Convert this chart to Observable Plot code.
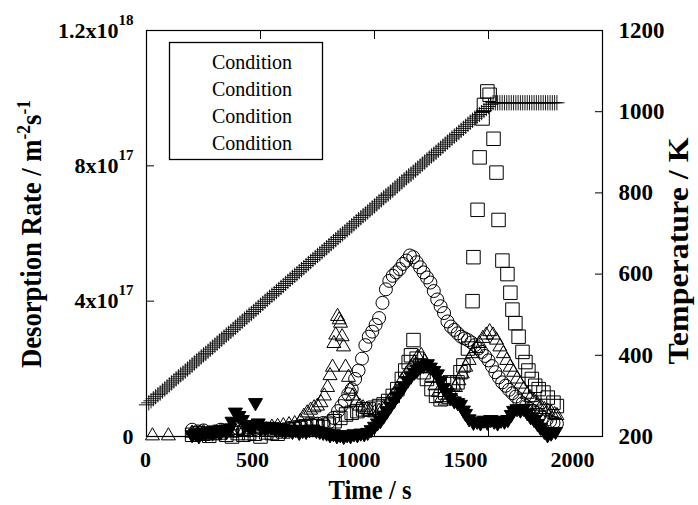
<!DOCTYPE html>
<html><head><meta charset="utf-8">
<script src="https://cdn.jsdelivr.net/npm/d3@7"></script>
<script src="https://cdn.jsdelivr.net/npm/@observablehq/plot@0.6"></script>
<style>html,body{margin:0;padding:0;background:#fff;} svg{display:block}</style>
</head><body><div id="chart"></div>
<script>
// ---------------- DATA ----------------
// Temperature (K) vs time (s) – right axis, "+" markers
const tempTime = [0,10,20,30,40,50,60,70,80,90,100,110,120,130,140,150,160,170,180,190,200,210,220,230,240,250,260,270,280,290,300,310,320,330,340,350,360,370,380,390,400,410,420,430,440,450,460,470,480,490,500,510,520,530,540,550,560,570,580,590,600,610,620,630,640,650,660,670,680,690,700,710,720,730,740,750,760,770,780,790,800,810,820,830,840,850,860,870,880,890,900,910,920,930,940,950,960,970,980,990,1000,1010,1020,1030,1040,1050,1060,1070,1080,1090,1100,1110,1120,1130,1140,1150,1160,1170,1180,1190,1200,1210,1220,1230,1240,1250,1260,1270,1280,1290,1300,1310,1320,1330,1340,1350,1360,1370,1380,1390,1400,1410,1420,1430,1440,1450,1460,1470,1480,1490,1500,1510,1520,1530,1540,1550,1560,1570,1580,1590,1600,1610,1620,1630,1640,1650,1660,1670,1680,1690,1700,1710,1720,1730,1740,1750,1760,1770,1780,1790,1800];
const tempK = [278,283,288,293,298,303,307,312,317,322,
327,332,337,342,347,352,356,361,366,371,
376,381,386,391,396,401,405,410,415,420,
425,430,435,440,445,450,454,459,464,469,
474,479,484,489,494,499,503,508,513,518,
523,528,533,538,543,548,552,557,562,567,
572,577,582,587,592,597,601,606,611,616,
621,626,631,636,641,646,650,655,660,665,
670,675,680,685,690,695,699,704,709,714,
719,724,729,734,739,744,748,753,758,763,
768,773,778,783,788,793,797,802,807,812,
817,822,827,832,837,842,846,851,856,861,
866,871,876,881,886,891,895,900,905,910,
915,920,925,930,935,940,944,949,954,959,
964,969,974,979,984,989,993,998,1003,1008,
1013,1018,1022,1022,1022,1022,1022,1022,1022,1022,
1022,1022,1022,1022,1022,1022,1022,1022,1022,1022,
1022,1022,1022,1022,1022,1022,1022,1022,1022,1022,1022];

// Desorption rate series: [time s, rate in 1e17 m^-2 s^-1]
const circles = [[200,0.2],[225,0.15],[250,0.18],[275,0.12],[300,0.15],[325,0.2],[350,0.18],[375,0.22],[400,0.25],[425,0.2],[450,0.18],[475,0.22],[500,0.25],[525,0.2],[550,0.18],[575,0.22],[600,0.2],[625,0.25],[650,0.28],[675,0.3],[700,0.32],[725,0.35],[750,0.38],[775,0.4],[800,0.42],[820,0.55],[840,0.75],[855,0.9],[870,1.05],[885,1.25],[900,1.4],[915,1.7],[930,1.95],[945,2.3],[960,2.7],[975,2.95],[990,3.1],[1005,3.3],[1020,3.5],[1035,3.95],[1050,4.35],[1065,4.6],[1080,4.75],[1095,4.85],[1110,4.95],[1125,5.1],[1140,5.2],[1155,5.35],[1170,5.3],[1185,5.15],[1200,5.0],[1215,4.85],[1230,4.7],[1245,4.55],[1260,4.3],[1275,4.05],[1290,3.85],[1305,3.65],[1320,3.4],[1335,3.25],[1350,3.15],[1365,3.05],[1380,2.95],[1395,2.9],[1410,2.85],[1425,2.78],[1440,2.7],[1455,2.6],[1470,2.5],[1485,2.38],[1500,2.25],[1515,2.08],[1530,1.9],[1545,1.75],[1560,1.6],[1575,1.5],[1590,1.38],[1605,1.28],[1620,1.18],[1635,1.05],[1650,0.98],[1665,0.9],[1680,0.82],[1695,0.76],[1710,0.7],[1725,0.63],[1740,0.56],[1755,0.5],[1770,0.45],[1785,0.4],[1800,0.38]];

const triangles = [[26,0.02],[96,0.02],[200,0.1],[225,0.05],[250,0.12],[275,0.08],[300,0.1],[325,0.15],[350,0.12],[375,0.1],[400,0.18],[425,0.15],[450,0.2],[475,0.22],[500,0.25],[525,0.2],[550,0.28],[575,0.3],[600,0.32],[625,0.35],[650,0.38],[675,0.45],[690,0.6],[705,0.7],[720,0.78],[735,0.85],[750,0.9],[765,1.0],[780,1.2],[794,1.45],[805,1.8],[816,2.05],[822,2.75],[830,3.0],[838,3.55],[845,3.45],[851,3.35],[858,2.95],[864,2.65],[873,2.05],[886,1.75],[895,1.4],[905,1.2],[920,1.0],[935,0.9],[950,0.85],[965,0.8],[980,0.75],[1000,0.7],[1020,0.75],[1040,0.85],[1060,1.0],[1080,1.2],[1100,1.4],[1120,1.65],[1140,1.85],[1160,2.05],[1175,2.2],[1190,2.35],[1205,2.4],[1220,2.2],[1235,2.0],[1250,1.75],[1265,1.5],[1280,1.3],[1295,1.15],[1310,1.05],[1325,1.1],[1340,1.25],[1355,1.45],[1370,1.65],[1385,1.85],[1400,2.05],[1415,2.25],[1430,2.45],[1445,2.6],[1460,2.75],[1475,2.9],[1490,3.0],[1505,3.1],[1520,3.0],[1535,2.85],[1550,2.65],[1565,2.45],[1580,2.25],[1595,2.05],[1610,1.9],[1625,1.7],[1640,1.55],[1655,1.4],[1670,1.25],[1685,1.15],[1700,1.05],[1715,0.95],[1730,0.88],[1745,0.8],[1760,0.75],[1775,0.7],[1790,0.65],[1800,0.62]];

const squares = [[200,0.05],[225,0.1],[250,0.08],[275,0.02],[300,0.1],[325,0.12],[350,0.05],[375,0.0],[400,0.1],[425,0.05],[450,0.1],[475,0.08],[500,0.0],[525,0.12],[550,0.1],[575,0.08],[600,0.15],[625,0.2],[650,0.22],[675,0.25],[700,0.3],[725,0.35],[750,0.3],[775,0.28],[800,0.35],[825,0.45],[850,0.55],[875,0.65],[900,0.7],[925,0.75],[950,0.8],[975,0.8],[1000,0.85],[1020,0.9],[1040,0.95],[1060,1.05],[1080,1.2],[1100,1.4],[1120,1.7],[1135,1.95],[1150,2.2],[1160,2.4],[1171,2.85],[1185,2.3],[1200,2.1],[1215,1.9],[1230,1.7],[1250,1.4],[1270,1.2],[1290,1.1],[1310,1.3],[1330,1.6],[1345,1.55],[1364,1.6],[1377,1.9],[1390,2.1],[1410,2.6],[1430,4.0],[1434,5.3],[1452,6.7],[1461,8.25],[1474,9.4],[1480,9.8],[1495,10.2],[1505,10.1],[1522,8.8],[1535,7.8],[1544,6.4],[1561,5.2],[1583,4.8],[1596,4.25],[1605,3.75],[1618,3.35],[1632,2.95],[1649,2.5],[1662,2.2],[1675,1.95],[1690,1.7],[1705,1.5],[1720,1.4],[1741,1.3],[1760,1.15],[1785,1.0],[1800,0.9]];

const filledTriangles = [[200,0.05],[215,0.1],[230,0.02],[245,0.12],[260,0.08],[275,0.15],[290,0.1],[305,0.18],[320,0.12],[335,0.2],[350,0.15],[365,0.25],[375,0.45],[390,0.72],[405,0.62],[420,0.5],[435,0.35],[450,0.3],[465,0.25],[478,1.0],[490,0.4],[505,0.3],[520,0.25],[535,0.3],[550,0.28],[565,0.22],[580,0.25],[595,0.2],[610,0.18],[625,0.22],[640,0.15],[655,0.2],[670,0.12],[685,0.18],[700,0.15],[715,0.2],[730,0.22],[745,0.18],[760,0.15],[775,0.12],[790,0.1],[805,0.05],[820,0.08],[835,0.02],[850,0.05],[865,0.0],[880,0.05],[895,0.02],[910,0.08],[925,0.05],[940,0.1],[955,0.08],[970,0.12],[985,0.2],[1000,0.3],[1013,0.4],[1026,0.47],[1040,0.6],[1055,0.75],[1070,0.9],[1085,1.05],[1100,1.2],[1115,1.35],[1130,1.5],[1145,1.65],[1160,1.78],[1175,1.9],[1188,1.98],[1200,2.05],[1215,2.1],[1232,2.15],[1245,2.05],[1260,1.95],[1276,1.85],[1290,1.65],[1302,1.45],[1318,1.3],[1333,1.15],[1350,1.05],[1365,1.0],[1377,0.95],[1390,0.78],[1399,0.68],[1415,0.52],[1434,0.42],[1450,0.45],[1465,0.4],[1480,0.48],[1495,0.42],[1510,0.5],[1525,0.45],[1540,0.4],[1555,0.48],[1570,0.45],[1585,0.5],[1600,0.65],[1610,0.77],[1625,0.82],[1640,0.78],[1654,0.83],[1670,0.7],[1685,0.58],[1700,0.5],[1715,0.38],[1728,0.27],[1745,0.15],[1759,0.05],[1775,0.1],[1794,0.15]];

// Axis ticks / labels
const xTicks = [0, 500, 1000, 1500, 2000];
const xTickLabels = ["0", "500", "1000", "1500", "2000"];
const rateTicks = [0, 4e17, 8e17, 1.2e18];
const rateTickLabels = ["0", "4x10^17", "8x10^17", "1.2x10^18"];
const tempTicks = [200, 400, 600, 800, 1000, 1200];
const legendLabels = ["Condition", "Condition", "Condition", "Condition"];

// ---------------- LAYOUT ----------------
const W = 698, H = 505;
const mL = 146, mR = 96, mT = 30, mB = 69;
const xLabelDx = [-1, -8, -16, -23, -30];
const tickLen = 8;
const serif = "'Liberation Serif', 'Times New Roman', serif";

// right (temperature) axis shares the y scale via a linear mapping
const tMin = 200, tMax = 1200, rMax = 1.2e18;
const toY = T => (T - tMin) / (tMax - tMin) * rMax;
const fromY = v => Math.round(v / rMax * (tMax - tMin) + tMin);

const tempRows = tempTime.map((t, i) => ({t, v: toY(tempK[i])}));
const rows = arr => arr.map(([t, r]) => ({t, v: r * 1e17}));

const triDown = {
  draw(ctx, size) {
    const y = -Math.sqrt(size / (Math.sqrt(3) * 3));
    const s = Math.sqrt(3) * y;
    ctx.moveTo(0, -2 * y);
    ctx.lineTo(-s, y);
    ctx.lineTo(s, y);
    ctx.closePath();
  }
};

const rateLabelMap = new Map(rateTicks.map((v, i) => [v, rateTickLabels[i]]));
const blank = () => "";

const plot = Plot.plot({
  width: W, height: H,
  marginLeft: mL, marginRight: mR, marginTop: mT, marginBottom: mB,
  x: {domain: [0, 2000]},
  y: {domain: [0, rMax]},
  style: {fontFamily: serif, fontSize: "22px", fontWeight: "bold", color: "black", background: "white", overflow: "visible"},
  marks: [
    Plot.frame({stroke: "black", strokeWidth: 1.2}),
    // inward tick marks
    Plot.axisX(xTicks, {anchor: "bottom", tickSize: -tickLen, tickFormat: blank, label: null}),
    Plot.axisX(xTicks, {anchor: "top", tickSize: -tickLen, tickFormat: blank, label: null}),
    Plot.axisY(rateTicks, {anchor: "left", tickSize: -tickLen, tickFormat: blank, label: null}),
    Plot.axisY(tempTicks.map(toY), {anchor: "right", tickSize: -tickLen, tickFormat: blank, label: null}),
    // tick labels
    ...xTicks.map((v, i) => Plot.axisX([v], {anchor: "bottom", tickSize: 0, tickPadding: 15, dx: xLabelDx[i], tickFormat: () => xTickLabels[i], label: null, fontSize: 22})),
    Plot.axisY(rateTicks, {anchor: "left", tickSize: 0, tickPadding: 13, tickFormat: d => rateLabelMap.get(d), label: null, fontSize: 22}),
    Plot.axisY(tempTicks.map(toY), {anchor: "right", tickSize: 0, tickPadding: 16, tickFormat: d => String(fromY(d)), label: null, fontSize: 23}),
    // data
    Plot.dot(tempRows, {x: "t", y: "v", symbol: "plus", r: 5, stroke: "black", strokeWidth: 0.9}),
    Plot.dot(rows(circles), {x: "t", y: "v", symbol: "circle", r: 6.5, stroke: "black", fill: "none", strokeWidth: 1}),
    Plot.dot(rows(squares), {x: "t", y: "v", symbol: "square", r: 7.6, stroke: "black", fill: "none", strokeWidth: 1}),
    Plot.dot(rows(triangles), {x: "t", y: "v", symbol: "triangle", r: 5.2, stroke: "black", fill: "none", strokeWidth: 1}),
    Plot.dot(rows(filledTriangles), {x: "t", y: "v", symbol: triDown, r: 5.2, stroke: "black", fill: "black", strokeWidth: 1})
  ]
});
document.getElementById("chart").appendChild(plot);

// superscripts in tick labels ("8x10^17")
const NS = "http://www.w3.org/2000/svg";
plot.querySelectorAll("text").forEach(el => {
  const s = el.textContent;
  if (!s.includes("^")) return;
  const [base, sup] = s.split("^");
  const host = el.querySelector("tspan") || el;
  host.textContent = base;
  const t = document.createElementNS(NS, "tspan");
  t.setAttribute("dy", -13);
  t.setAttribute("font-size", 15);
  t.textContent = sup;
  host.appendChild(t);
});

const svg = d3.select(plot);
const cx = mL + (W - mL - mR) / 2;
const cy = mT + (H - mT - mB) / 2;

// axis titles
svg.append("text")
  .attr("x", cx - 4).attr("y", 499)
  .attr("text-anchor", "middle")
  .attr("font-family", serif).attr("font-weight", "bold").attr("font-size", 28)
  .attr("textLength", 83).attr("lengthAdjust", "spacingAndGlyphs")
  .text("Time / s");

const lt = svg.append("text")
  .attr("transform", `translate(40.5,${cy + 1}) rotate(-90)`)
  .attr("text-anchor", "middle")
  .attr("font-family", serif).attr("font-weight", "bold").attr("font-size", 29)
  .attr("textLength", 268).attr("lengthAdjust", "spacingAndGlyphs");
lt.append("tspan").text("Desorption Rate / m");
lt.append("tspan").attr("dy", -11).attr("font-size", 19).text("-2");
lt.append("tspan").attr("dy", 11).text("s");
lt.append("tspan").attr("dy", -11).attr("font-size", 19).text("-1");

svg.append("text")
  .attr("transform", `translate(688,251) rotate(-90)`)
  .attr("text-anchor", "middle")
  .attr("font-family", serif).attr("font-weight", "bold").attr("font-size", 29)
  .attr("textLength", 227).attr("lengthAdjust", "spacingAndGlyphs")
  .text("Temperature / K");

// legend box
const lg = svg.append("g");
lg.append("rect").attr("x", 169.5).attr("y", 42.5).attr("width", 153).attr("height", 117)
  .attr("fill", "white").attr("stroke", "black").attr("stroke-width", 1.3);
legendLabels.forEach((s, i) => {
  lg.append("text").attr("x", 212).attr("y", 69 + i * 27)
    .attr("text-anchor", "start")
    .attr("font-family", serif).attr("font-weight", "normal").attr("font-size", 20)
    .attr("fill", "black").text(s);
});
</script>
</body></html>
